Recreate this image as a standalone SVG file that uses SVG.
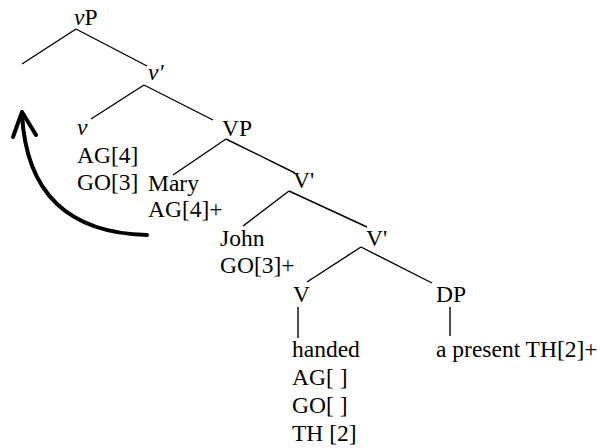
<svg xmlns="http://www.w3.org/2000/svg" width="608" height="448" viewBox="0 0 608 448">
<style>
text{font-family:"Liberation Serif","Times New Roman",serif;font-size:23.5px;fill:#000}
.i{font-style:italic}
.e{stroke:#000;stroke-width:1.4;fill:none}
.arr{stroke:#000;stroke-width:4;fill:none;stroke-linecap:round;stroke-linejoin:round}
</style>
<rect width="608" height="448" fill="#fff"/>
<g id="connectors">
<line class="e" x1="76" y1="29" x2="22" y2="64"/>
<line class="e" x1="76" y1="29" x2="147" y2="66"/>
<line class="e" x1="144" y1="85" x2="91" y2="119"/>
<line class="e" x1="144" y1="85" x2="213" y2="120"/>
<line class="e" x1="226" y1="139" x2="173" y2="175"/>
<line class="e" x1="226" y1="139" x2="295" y2="173"/>
<line class="e" x1="289" y1="191" x2="243" y2="226"/>
<line class="e" x1="289" y1="191" x2="367" y2="227"/>
<line class="e" x1="361" y1="247" x2="307" y2="282"/>
<line class="e" x1="361" y1="247" x2="432" y2="283"/>
<line class="e" x1="298" y1="307" x2="298" y2="338"/>
<line class="e" x1="450" y1="307" x2="450" y2="336"/>
<path class="arr" d="M147,235 Q28,232 22,114"/>
<path class="arr" d="M13,137 L22,112 L36,135"/>
</g>
<g id="vP"><text x="74" y="25"><tspan class="i">v</tspan>P</text></g>
<g id="vbar"><text x="148" y="80" class="i">v'</text></g>
<g id="v"><text x="77" y="135" class="i">v</text><text x="77" y="163">AG[4]</text><text x="77" y="190">GO[3]</text></g>
<g id="VP"><text x="222" y="136">VP</text></g>
<g id="Mary"><text x="148" y="191">Mary</text><text x="148" y="217">AG[4]+</text></g>
<g id="Vbar1"><text x="293" y="188">V'</text></g>
<g id="John"><text x="220" y="246">John</text><text x="220" y="273">GO[3]+</text></g>
<g id="Vbar2"><text x="366" y="246">V'</text></g>
<g id="V"><text x="293" y="302">V</text></g>
<g id="DP"><text x="436" y="302">DP</text></g>
<g id="handed"><text x="292" y="357">handed</text><text x="292" y="385">AG[ ]</text><text x="292" y="413">GO[ ]</text><text x="292" y="441">TH [2]</text></g>
<g id="present"><text x="436" y="357">a present TH[2]+</text></g>
</svg>
